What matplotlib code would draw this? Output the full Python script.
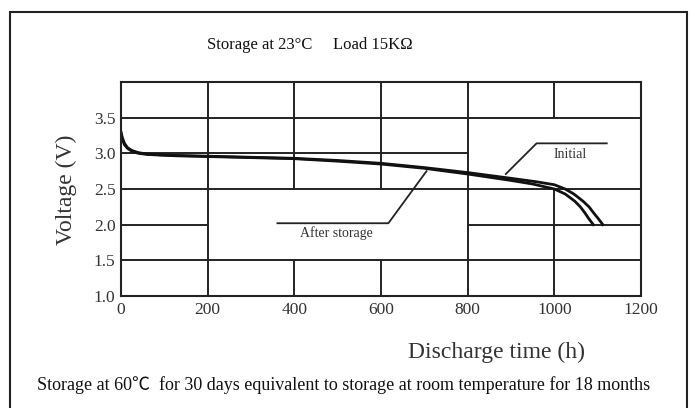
import matplotlib
matplotlib.use("Agg")
import matplotlib.pyplot as plt
from matplotlib.patches import Rectangle

# ---- data ----
time_initial = [0, 3, 8, 15, 25, 40, 60, 90, 130, 200, 300, 400, 500, 600, 700,
                800, 900, 960, 1000, 1025, 1045, 1066, 1080, 1090, 1102, 1112]
volt_initial = [3.30, 3.22, 3.14, 3.08, 3.04, 3.01, 2.99, 2.98, 2.97, 2.96, 2.945,
                2.93, 2.90, 2.86, 2.80, 2.73, 2.65, 2.60, 2.56, 2.50, 2.43, 2.33,
                2.25, 2.17, 2.08, 2.00]

time_after = [0, 3, 8, 15, 25, 40, 60, 90, 130, 200, 300, 400, 500, 600, 700,
              800, 900, 950, 1000, 1025, 1047, 1060, 1070, 1080, 1090]
volt_after = [3.28, 3.20, 3.12, 3.07, 3.03, 3.00, 2.985, 2.975, 2.965, 2.955, 2.94,
              2.925, 2.89, 2.85, 2.79, 2.71, 2.62, 2.57, 2.50, 2.43, 2.33, 2.25,
              2.17, 2.08, 2.00]

x_ticks = [0, 200, 400, 600, 800, 1000, 1200]
x_tick_labels = ["0", "200", "400", "600", "800", "1000", "1200"]
y_ticks = [1.0, 1.5, 2.0, 2.5, 3.0, 3.5]
y_tick_labels = ["1.0", "1.5", "2.0", "2.5", "3.0", "3.5"]

title_text = "Storage at 23°C     Load 15KΩ"
note_text = "Storage at 60℃  for 30 days equivalent to storage at room temperature for 18 months"

# ---- layout / style ----
SERIF = ["Liberation Serif", "Noto Sans CJK SC", "DejaVu Serif"]
INK = "#222222"
TXT = "#333333"

# grid segments (horizontal: y, x0, x1 ; vertical: x, y0, y1)
h_segments = [(3.5, 0, 1200), (3.0, 0, 800), (2.5, 0, 1200),
              (2.0, 0, 200), (2.0, 800, 1200), (1.5, 0, 1200)]
v_segments = [(200, 1.0, 4.0), (400, 2.5, 4.0), (400, 1.0, 1.5),
              (600, 2.5, 4.0), (600, 1.0, 1.5), (800, 1.0, 4.0),
              (1000, 3.5, 4.0), (1000, 1.0, 2.5)]

fig = plt.figure(figsize=(6.91, 4.08), dpi=100)
fig.patch.set_facecolor("white")

# outer frame
fig.patches.append(Rectangle((10 / 691, -0.02), 677 / 691, 1 - 12 / 408 + 0.02,
                             transform=fig.transFigure, fill=False,
                             edgecolor=INK, linewidth=1.5))

ax = fig.add_axes([121 / 691, 1 - 296 / 408, 520 / 691, 214 / 408])
ax.set_xlim(0, 1200)
ax.set_ylim(1.0, 4.0)

for y, x0, x1 in h_segments:
    ax.plot([x0, x1], [y, y], color=INK, lw=1.4, solid_capstyle="butt")
for x, y0, y1 in v_segments:
    ax.plot([x, x], [y0, y1], color=INK, lw=1.4, solid_capstyle="butt")

ax.plot(time_initial, volt_initial, color="#111111", lw=2.0)
ax.plot(time_after, volt_after, color="#111111", lw=2.0)

# leader lines
ax.plot([1121, 959, 888], [3.14, 3.14, 2.71], color=INK, lw=1.3)
ax.plot([361, 617, 705], [2.02, 2.02, 2.75], color=INK, lw=1.3)
ax.text(1036, 2.99, "Initial", ha="center", va="center", fontsize=10,
        family=SERIF, color=TXT)
ax.text(498, 1.88, "After storage", ha="center", va="center", fontsize=10,
        family=SERIF, color=TXT)

for s in ax.spines.values():
    s.set_color(INK)
    s.set_linewidth(1.5)

ax.set_xticks(x_ticks)
ax.set_xticklabels(x_tick_labels, family=SERIF, fontsize=12.5, color=TXT)
ax.set_yticks(y_ticks)
ax.set_yticklabels(y_tick_labels, family=SERIF, fontsize=12.5, color=TXT)
ax.tick_params(length=0, pad=4)

fig.text(66 / 691, 1 - 190 / 408, "Voltage (V)", rotation=90, ha="center",
         va="center", fontsize=17, family=SERIF, color=TXT)
fig.text(497 / 691, 1 - 352 / 408, "Discharge time (h)", ha="center",
         va="center", fontsize=17, family=SERIF, color=TXT)
fig.text(310 / 691, 1 - 45 / 408, title_text, ha="center", va="center",
         fontsize=12, family=SERIF, color="#111111")
fig.text(344 / 691, 1 - 385 / 408, note_text, ha="center", va="center",
         fontsize=13, family=SERIF, color="#111111")

fig.savefig("out.png", dpi=100, facecolor="white")
